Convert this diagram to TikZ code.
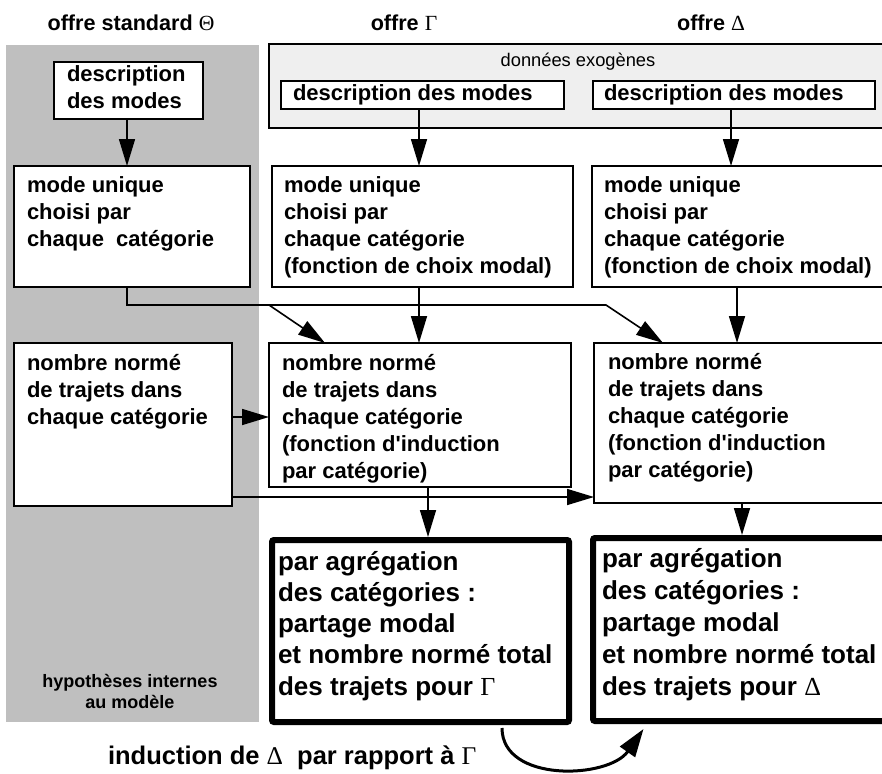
\documentclass[tikz,border=0pt]{standalone}
\usepackage{fontspec}
\setmainfont{Liberation Sans}
\newfontfamily\grk{Liberation Serif}
\usetikzlibrary{arrows.meta,calc}
\newcommand\gr[1]{{\grk\mdseries #1}}
\newcommand\Lines[3]{\parbox[t]{420pt}{\fontsize{#1}{#2}\selectfont\bfseries\raggedright #3}}
\definecolor{panelgray}{RGB}{191,191,191}
\definecolor{exgray}{RGB}{239,239,239}
\begin{document}
\begin{tikzpicture}[x=1pt,y=-1pt,
  box/.style={draw, line width=1.6pt, fill=white, inner sep=0pt, outer sep=0pt, anchor=north west},
  aggbox/.style={draw, line width=6pt, fill=white, rounded corners=2pt, inner sep=0pt, outer sep=0pt, anchor=north west},
  txt/.style={inner sep=0pt, outer sep=0pt, anchor=base west},
  ctxt/.style={inner sep=0pt, outer sep=0pt, anchor=base},
  arr/.style={line width=1.6pt, -{Triangle[length=27pt,width=16pt]}},
  conn/.style={line width=1.6pt},
  bigarr/.style={line width=3pt, -{Triangle[length=28pt,width=18pt]}}
]
\useasboundingbox (0,0) rectangle (882,773);
\clip (0,0) rectangle (882,773);
\fill[white] (0,0) rectangle (882,773);

% panels
\node[inner sep=0pt, outer sep=0pt, fill=panelgray, anchor=north west, minimum width=253pt, minimum height=677pt] (pT) at (6,45) {};
\node[draw, line width=1.5pt, inner sep=0pt, outer sep=0pt, fill=exgray, anchor=north west, minimum width=623pt, minimum height=84pt] (ex) at (269,44) {};

% titles
\node[ctxt, font=\fontsize{21.6}{26}\selectfont\bfseries] (tT) at (131,31) {offre standard \gr{Θ}};
\node[ctxt, font=\fontsize{21.6}{26}\selectfont\bfseries] (tG) at (404,31) {offre \gr{Γ}};
\node[ctxt, font=\fontsize{21.6}{26}\selectfont\bfseries] (tD) at (711,31) {offre \gr{Δ}};
\node[ctxt, font=\fontsize{18.3}{22}\selectfont] (exl) at (578,67) {données exogènes};

% boxes
\node[box, minimum width=149pt, minimum height=57pt] (dT) at (54,62) {};
\node[box, minimum width=283pt, minimum height=28pt] (dG) at (281,81) {};
\node[box, minimum width=282pt, minimum height=28pt] (dD) at (593,81) {};
\node[box, minimum width=236pt, minimum height=121pt] (mT) at (14,166) {};
\node[box, minimum width=301pt, minimum height=121pt] (mG) at (272,166) {};
\node[box, minimum width=300pt, minimum height=121pt] (mD) at (592,166) {};
\node[box, minimum width=218pt, minimum height=163pt] (nT) at (14,343) {};
\node[box, minimum width=302pt, minimum height=144pt] (nG) at (269,343) {};
\node[box, minimum width=300pt, minimum height=160pt] (nD) at (594,343) {};
\node[aggbox, minimum width=297pt, minimum height=182pt] (aG) at (272,540) {};
\node[aggbox, minimum width=305pt, minimum height=183pt] (aD) at (593,538) {};

% connectors
\draw[arr] ([xshift=-1.5pt]dT.south) -- ([xshift=-1.5pt]dT.south |- mT.north);
\draw[arr] ([xshift=-3.5pt]dG.south) -- ([xshift=-3.5pt]dG.south |- mG.north);
\draw[arr] ([xshift=-3pt]dD.south) -- ([xshift=-3pt]dD.south |- mD.north);

\coordinate (j1) at (127,305);
\coordinate (j2) at (606,305);
\coordinate (j3) at (269,305);
\draw[arr] (mT.south -| j1) -- (j1) -- (j2) -- ($(nD.north west)+(69,0)$);
\draw[arr] (j3) -- ($(nG.north west)+(56,0)$);
\draw[arr] ([xshift=-3.5pt]mG.south) -- ([xshift=-3.5pt]mG.south |- nG.north);
\draw[arr] ([xshift=-5pt]mD.south) -- ([xshift=-5pt]mD.south |- nD.north);

\draw[arr] ([yshift=7.5pt]nT.east) -- ([yshift=7.5pt]nT.east -| nG.west);
\draw[arr] ([yshift=-72.5pt]nT.east) -- ([yshift=-72.5pt]nT.east -| nD.west);

\draw[arr] ([xshift=8pt]nG.south) -- ([xshift=8pt,yshift=3pt]nG.south |- aG.north);
\draw[arr] ([xshift=-2pt]nD.south) -- ([xshift=-2pt,yshift=3pt]nD.south |- aD.north);

\draw[bigarr] ([xshift=81.5pt,yshift=-6pt]aG.south) .. controls +(0,55) and +(-35,50) .. ([xshift=-102pt,yshift=-8pt]aD.south);

% texts
\node[txt] (xdT) at (67,82) {\Lines{22}{27}{description\\des modes}};
\node[txt] (xdG) at (293,100) {\Lines{22}{27}{description des modes}};
\node[txt] (xdD) at (604,100) {\Lines{22}{27}{description des modes}};
\node[txt] (xmT) at (27,192) {\Lines{22}{27}{mode unique\\choisi par\\chaque\ \ catégorie}};
\node[txt] (xmG) at (284,192) {\Lines{22}{27}{mode unique\\choisi par\\chaque catégorie\\(fonction de choix modal)}};
\node[txt] (xmD) at (604,192) {\Lines{22}{27}{mode unique\\choisi par\\chaque catégorie\\(fonction de choix modal)}};
\node[txt] (xnT) at (27,370) {\Lines{22}{27}{nombre normé\\de trajets dans\\chaque catégorie}};
\node[txt] (xnG) at (282,370) {\Lines{22}{27}{nombre normé\\de trajets dans\\chaque catégorie\\(fonction d\textquotesingle induction\\par catégorie)}};
\node[txt] (xnD) at (608,369) {\Lines{22}{27}{nombre normé\\de trajets dans\\chaque catégorie\\(fonction d\textquotesingle induction\\par catégorie)}};
\node[txt] (xaG) at (278,570) {\Lines{26}{31.25}{par agrégation\\des catégories :\\partage modal\\et nombre normé total\\des trajets pour \gr{Γ}}};
\node[txt] (xaD) at (602,567) {\Lines{26}{32}{par agrégation\\des catégories :\\partage modal\\et nombre normé total\\des trajets pour \gr{Δ}}};
\node[ctxt] (hyp) at (130,687) {\parbox[t]{220pt}{\centering\fontsize{18}{21}\selectfont\bfseries hypothèses internes\\au modèle}};
\node[txt, font=\fontsize{25.5}{30}\selectfont\bfseries] (ind) at (108,764) {induction de \gr{Δ}\ \ par rapport à \gr{Γ}};
\end{tikzpicture}
\end{document}
